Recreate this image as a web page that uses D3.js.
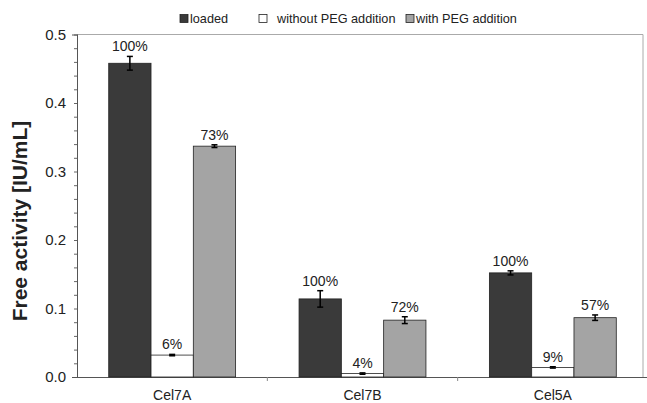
<!DOCTYPE html>
<html lang="en">
<head>
<meta charset="utf-8">
<title>Free activity</title>
<script src="https://d3js.org/d3.v7.min.js"></script>
<style>
  body { margin: 0; background: #fff; }
  text { font-family: "Liberation Sans", Arial, sans-serif; fill: #222; }
</style>
</head>
<body>
<script>
var categories = ["Cel7A", "Cel7B", "Cel5A"];
var series = ["loaded", "without PEG addition", "with PEG addition"];
var loaded = [0.458, 0.114, 0.152];
var loadedErr = [0.010, 0.012, 0.003];
var withoutPEG = [0.032, 0.005, 0.014];
var withoutPEGErr = [0.001, 0.001, 0.001];
var withPEG = [0.337, 0.083, 0.0866];
var withPEGErr = [0.002, 0.005, 0.004];
var percents = [["100%", "6%", "73%"], ["100%", "4%", "72%"], ["100%", "9%", "57%"]];
var yTicks = [0, 0.1, 0.2, 0.3, 0.4, 0.5];

var values = [loaded, withoutPEG, withPEG];
var errors = [loadedErr, withoutPEGErr, withPEGErr];
var colors = ["#3a3a3a", "#ffffff", "#a4a4a4"];

var W = 647, H = 403;
var plotL = 77, plotR = 643, plotT = 34.5, plotB = 377;

var svg = d3.select("body").append("svg")
    .attr("width", W).attr("height", H);

var x0 = d3.scaleBand().domain(categories).range([plotL, 648]);
var x1 = d3.scaleBand().domain(series).range([0, x0.bandwidth()]).paddingOuter(0.75);
var y = d3.scaleLinear().domain([0, 0.5]).range([plotB, plotT]);

// frame
svg.append("path")
    .attr("d", "M" + plotL + "," + plotT + "H" + plotR + "V" + plotB)
    .attr("fill", "none").attr("stroke", "#aaa").attr("stroke-width", 1);

// minor y ticks
svg.append("g")
    .attr("transform", "translate(" + plotL + ",0)")
    .call(d3.axisLeft(y).ticks(20).tickSize(3).tickFormat(""))
    .call(function(g) { g.select(".domain").remove(); })
    .selectAll("line").attr("stroke", "#666");

// major y axis
var yAx = svg.append("g")
    .attr("transform", "translate(" + plotL + ",0)")
    .call(d3.axisLeft(y).tickValues(yTicks).tickSize(5).tickPadding(6).tickFormat(d3.format(".1f")));
yAx.select(".domain").attr("stroke", "#555");
yAx.selectAll(".tick line").attr("stroke", "#555").attr("x2", 1);
yAx.selectAll(".tick text").style("font-size", "15px").attr("fill", "#222");

// x axis
var xAx = svg.append("g")
    .attr("transform", "translate(0," + plotB + ")")
    .call(d3.axisBottom(x0).tickSize(0).tickPadding(13));
xAx.select(".domain").attr("stroke", "#555");
xAx.selectAll(".tick text").style("font-size", "14px").attr("fill", "#222");
svg.append("g").selectAll("line")
    .data(categories.slice(1))
    .join("line")
    .attr("x1", function(d) { return x0(d); })
    .attr("x2", function(d) { return x0(d); })
    .attr("y1", plotB).attr("y2", plotB + 4)
    .attr("stroke", "#888");

// bars
var groups = svg.append("g").selectAll("g")
    .data(categories)
    .join("g")
    .attr("transform", function(d) { return "translate(" + x0(d) + ",0)"; });

groups.each(function(cat, ci) {
  var g = d3.select(this);
  series.forEach(function(s, si) {
    var v = values[si][ci], e = errors[si][ci];
    var cx = x1(s) + x1.bandwidth() / 2;
    g.append("rect")
        .attr("x", x1(s)).attr("width", x1.bandwidth())
        .attr("y", y(v)).attr("height", y(0) - y(v))
        .attr("fill", colors[si])
        .attr("stroke", "#222").attr("stroke-width", 0.8);
    g.append("line")
        .attr("x1", cx).attr("x2", cx)
        .attr("y1", y(v + e)).attr("y2", y(v - e))
        .attr("stroke", "#000").attr("stroke-width", 1.5);
    [v + e, v - e].forEach(function(t) {
      g.append("line")
          .attr("x1", cx - 3).attr("x2", cx + 3)
          .attr("y1", y(t)).attr("y2", y(t))
          .attr("stroke", "#000").attr("stroke-width", 1.5);
    });
    g.append("text")
        .attr("x", cx).attr("y", y(v + e) - 5)
        .attr("text-anchor", "middle")
        .style("font-size", "14px")
        .text(percents[ci][si]);
  });
});

// y title
svg.append("text")
    .attr("transform", "translate(27,221) rotate(-90)")
    .attr("text-anchor", "middle")
    .style("font-size", "21px").style("font-weight", "bold")
    .attr("fill", "#111")
    .text("Free activity [IU/mL]");

// legend
var legX = [180, 259, 406];
var legTextX = [190, 277, 416];
series.forEach(function(s, i) {
  svg.append("rect")
      .attr("x", legX[i]).attr("y", 14.5).attr("width", 8).attr("height", 8)
      .attr("fill", colors[i]).attr("stroke", "#222").attr("stroke-width", 0.8);
  svg.append("text")
      .attr("x", legTextX[i]).attr("y", 22.5)
      .style("font-size", "12.7px")
      .text(s);
});
</script>
</body>
</html>
